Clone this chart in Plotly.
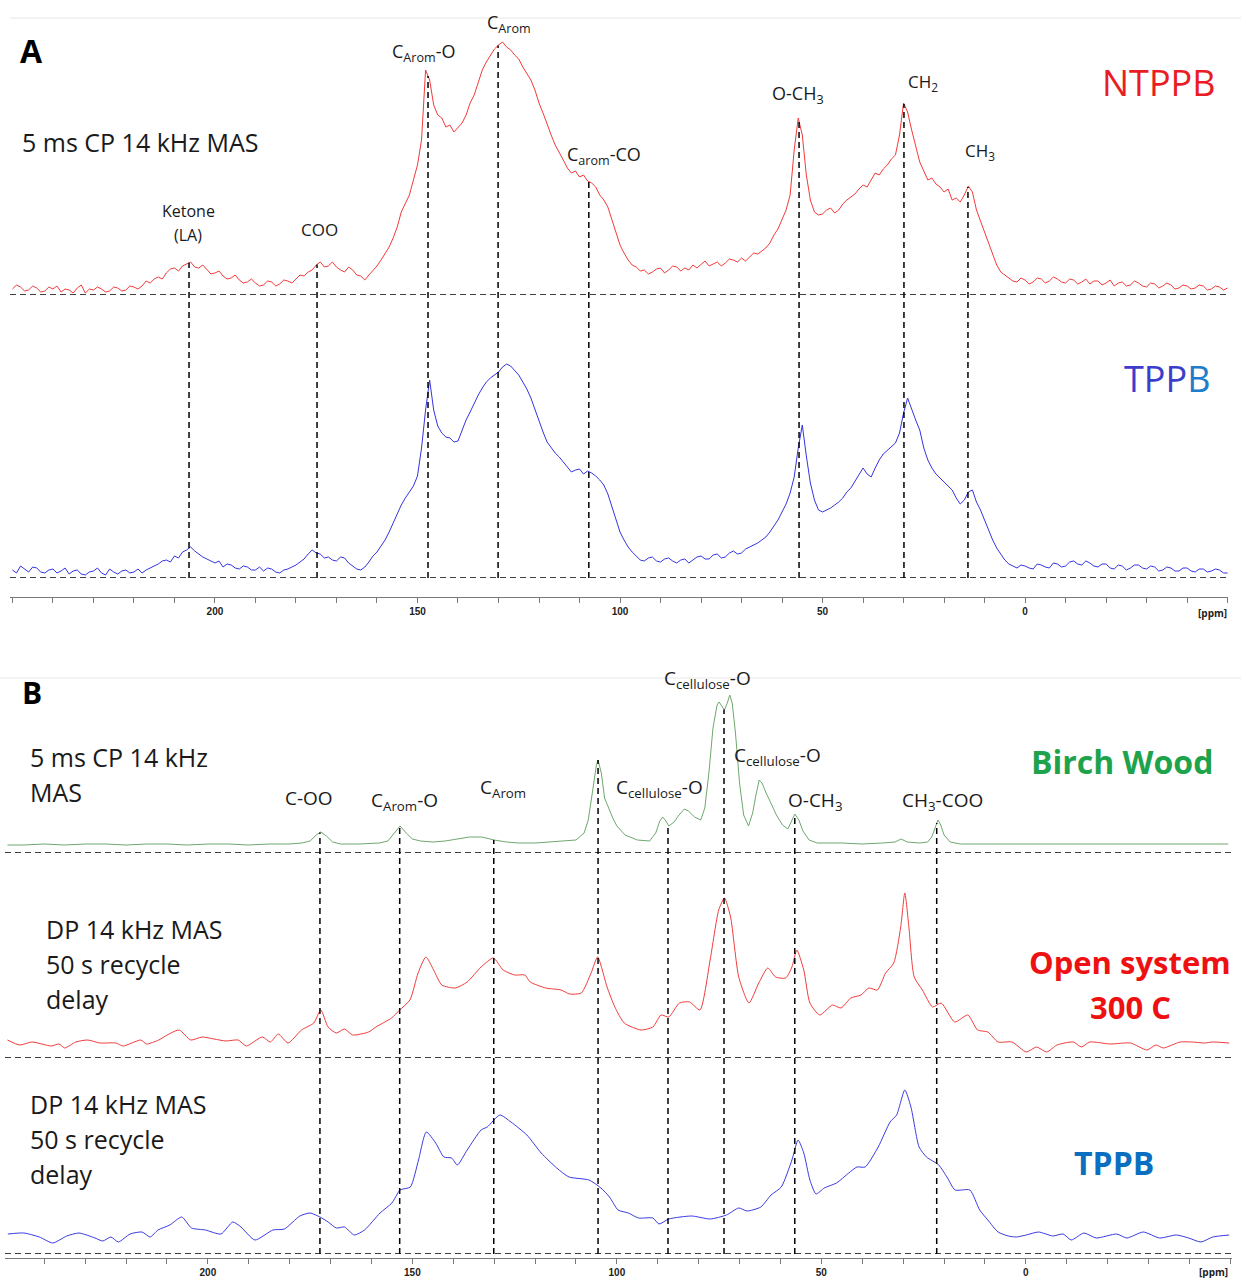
import numpy as np
import plotly.graph_objects as go

W, H = 1241, 1278


def px(x):
    return x / W


def py(y):
    return 1 - y / H


# ---------------- Panel A data (1 ppm grid, intensity in a.u.) ----------------
ppm_a = list(range(250, -51, -1))
ntppb = [6, 10, 8, 4, 5, 9, 7, 3, 4, 8,
         6, 9, 3, 6, 5, 2, 7, 10, 2, 6,
         5, 8, 6, 3, 4, 8, 7, 4, 5, 9,
         8, 6, 9, 14, 12, 16, 18, 16, 22, 26,
         27, 24, 29, 31, 33, 28, 27, 30, 25, 21,
         22, 24, 19, 16, 17, 20, 15, 12, 13, 16,
         12, 9, 10, 14, 13, 9, 11, 15, 14, 12,
         16, 20, 19, 23, 25, 30, 33, 28, 29, 33,
         28, 25, 23, 28, 25, 20, 19, 15, 20, 24,
         29, 35, 42, 48, 57, 68, 83, 92, 100, 115,
         130, 155, 225, 215, 190, 180, 177, 168, 170, 163,
         167, 172, 180, 192, 200, 212, 225, 233, 240, 246,
         250, 253, 248, 245, 240, 236, 228, 222, 215, 205,
         192, 182, 170, 160, 150, 143, 135, 127, 122, 124,
         118, 120, 114, 112, 108, 100, 95, 88, 75, 62,
         50, 42, 35, 30, 28, 24, 25, 21, 23, 26,
         27, 22, 25, 29, 28, 24, 27, 25, 30, 27,
         31, 34, 29, 31, 33, 29, 32, 36, 35, 33,
         37, 34, 38, 42, 41, 44, 47, 52, 60, 66,
         75, 85, 100, 145, 177, 160, 120, 95, 83, 80,
         81, 85, 87, 82, 85, 91, 95, 98, 101, 106,
         110, 108, 115, 122, 120, 126, 130, 136, 140, 160,
         192, 183, 165, 150, 133, 124, 115, 117, 111, 108,
         103, 106, 95, 97, 93, 100, 109, 103, 85, 74,
         63, 52, 40, 30, 23, 20, 17, 14, 13, 17,
         15, 11, 13, 17, 16, 12, 14, 18, 16, 13,
         12, 16, 15, 11, 13, 16, 11, 14, 14, 10,
         12, 15, 9, 12, 13, 9, 10, 14, 12, 9,
         8, 12, 11, 7, 9, 12, 10, 6, 7, 10,
         9, 6, 7, 10, 9, 5, 6, 9, 8, 5,
         7]
tppb_a = [8, 5, 12, 9, 6, 11, 10, 6, 5, 8,
          9, 5, 7, 10, 4, 7, 8, 4, 3, 6,
          7, 10, 5, 3, 9, 6, 4, 7, 8, 5,
          6, 9, 5, 8, 10, 12, 14, 17, 18, 16,
          22, 20, 26, 28, 31, 27, 24, 21, 19, 17,
          15, 17, 11, 14, 13, 10, 9, 12, 11, 8,
          8, 11, 7, 10, 9, 6, 5, 8, 9, 11,
          13, 16, 19, 24, 28, 25, 24, 20, 21, 18,
          17, 21, 20, 15, 12, 9, 8, 11, 16, 22,
          26, 32, 38, 46, 55, 64, 73, 80, 86, 92,
          102, 130, 168, 198, 168, 152, 145, 141, 140, 136,
          137, 148, 158, 166, 175, 183, 190, 196, 200, 203,
          206, 211, 214, 212, 208, 203, 196, 189, 180, 168,
          156, 146, 136, 130, 125, 121, 116, 110, 106, 108,
          109, 104, 107, 105, 102, 98, 93, 84, 72, 58,
          46, 38, 31, 26, 22, 18, 17, 20, 21, 17,
          16, 19, 20, 17, 15, 18, 19, 15, 18, 21,
          22, 19, 19, 23, 24, 20, 21, 25, 27, 24,
          25, 29, 31, 33, 35, 38, 41, 46, 52, 58,
          66, 74, 85, 101, 130, 153, 122, 95, 78, 68,
          66, 68, 70, 73, 76, 80, 86, 90, 97, 104,
          110, 104, 101, 110, 118, 124, 128, 131, 135, 145,
          165, 180, 168, 158, 148, 130, 118, 110, 104, 100,
          96, 91, 88, 80, 74, 78, 86, 88, 76, 68,
          58, 48, 38, 30, 24, 18, 14, 12, 10, 13,
          12, 10, 9, 14, 13, 11, 10, 15, 14, 11,
          12, 16, 17, 14, 13, 17, 15, 12, 11, 14,
          14, 10, 9, 13, 12, 8, 10, 13, 13, 10,
          9, 12, 11, 7, 8, 11, 10, 7, 7, 10,
          10, 7, 6, 9, 9, 6, 7, 9, 8, 5,
          5]

# ---------------- Panel B data ----------------
ppm_birch = [249, 245, 240, 235, 230, 225, 220, 215, 210, 205,
             200, 195, 190, 185, 180, 177, 175, 173.5, 172.4, 171,
             169.5, 167.5, 163, 158, 156, 154.5, 153, 151.5, 150, 148,
             145, 142, 139, 136, 133, 130, 127, 124, 120, 116,
             112, 110, 108, 107, 106, 105, 104.6, 103.8, 103, 102,
             101, 100, 98, 95, 92, 90.5, 89.5, 88.8, 88, 87.3,
             86, 85, 83.5, 82.5, 81, 79.5, 78.5, 77.5, 76.5, 75.5,
             75, 74.2, 73.7, 73, 72.4, 71.8, 71, 70, 69, 67.8,
             66.8, 66, 65.2, 64.5, 63.5, 62, 61, 59.5, 58.2, 57.5,
             56.5, 55.5, 54.5, 53, 51, 45, 40, 35, 32, 30.5,
             29, 26, 24, 23, 22, 21.5, 20.8, 20, 18.5, 16,
             10, 0, -10, -20, -30, -40, -49.5]
birch = [8, 8, 9, 8, 9, 9, 8, 9, 9, 8,
         9, 9, 8, 9, 9, 10, 12, 18, 21, 17,
         11, 9, 9, 10, 12, 20, 27, 20, 14, 12,
         11, 12, 14, 16, 16, 13, 11, 10, 10, 11,
         12, 13, 20, 33, 60, 88, 93, 80, 55, 45,
         35, 27, 18, 13, 12, 20, 32, 36, 32, 27,
         31, 37, 44, 42, 36, 33, 45, 80, 125, 148,
         151, 146, 143, 150, 158, 150, 120, 70, 38, 27,
         40, 58, 73, 70, 60, 47, 38, 28, 24, 30,
         39, 33, 22, 13, 10, 10, 9, 10, 11, 14,
         11, 10, 11, 16, 28, 33, 28, 18, 11, 9,
         9, 9, 9, 9, 9, 9, 9]

ppm_open = [249, 246, 243, 238.3, 236.4, 235, 232.3, 229.4, 226.4, 222.5,
            220.7, 216.4, 215, 212, 209.5, 207, 204.2, 201.4, 198.5, 195.6,
            192.6, 190.6, 186.7, 184.7, 182.8, 180.4, 177.1, 174.1, 172.4, 170.6,
            168.6, 166.6, 164.6, 160.7, 158.9, 155.1, 153.1, 150.6, 148.6, 146.7,
            144.8, 142.8, 139.5, 136.6, 133.2, 130.2, 127.8, 125, 122.5, 121.2,
            117.4, 113.6, 111.6, 108.7, 106.3, 104.7, 102.4, 100.5, 98.2, 94.1,
            91.2, 89.2, 87.3, 84.7, 82.2, 79.7, 77.2, 75.1, 73.7, 72.2,
            70.2, 67.7, 65.3, 63.1, 61.2, 58.7, 57.2, 56, 54.3, 52.8,
            50.4, 47.3, 45.2, 42.8, 40.3, 38.4, 36.3, 34.3, 32.3, 30.6,
            29.6, 28.6, 27.3, 25.3, 22.8, 20.7, 17.4, 14.2, 11.8, 9.3,
            6.8, 3.4, -0.1, -2.6, -5.1, -7.6, -11.6, -13.6, -15.6, -20.6,
            -25.6, -29.6, -31.8, -33.6, -37.7, -40.6, -43.7, -45.7, -49.7]
open_sys = [18, 13, 16, 12, 14, 10, 16, 18, 15, 15,
            12, 18, 14, 18, 24, 28, 18, 21, 19, 17,
            18, 12, 21, 16, 24, 15, 28, 35, 48, 31,
            25, 29, 23, 26, 31, 40, 48, 58, 85, 101,
            88, 73, 70, 76, 91, 100, 88, 83, 83, 76,
            70, 68, 64, 65, 85, 101, 71, 51, 35, 28,
            31, 43, 41, 55, 56, 48, 98, 148, 160, 141,
            81, 55, 75, 90, 81, 80, 91, 108, 88, 55,
            43, 53, 50, 60, 63, 70, 68, 85, 95, 131,
            165, 131, 81, 68, 51, 55, 36, 43, 28, 26,
            16, 16, 6, 11, 6, 13, 16, 11, 16, 14,
            15, 8, 13, 10, 16, 16, 15, 16, 15]

ppm_tppb_b = [248.9, 245, 241.2, 237.9, 234.5, 231.5, 227.6, 225.7, 223.7, 221.9,
              219, 216.1, 214.1, 212.2, 209.3, 206.4, 204, 200.6, 196.8, 193.9,
              191.9, 188.5, 184.1, 181.3, 177.5, 175, 172.6, 170.6, 168.6, 166.6,
              164.2, 161.7, 157.9, 155, 153, 150.5, 148.5, 146.6, 144.3, 142.3,
              140.4, 139, 136.6, 133.2, 131.7, 128.6, 125.9, 122, 118.5, 114.7,
              111.7, 106.8, 103.9, 101.8, 99.7, 97.2, 94.7, 91.2, 89.7, 87.3,
              81.7, 77.2, 73.2, 70.2, 68.2, 64.8, 62.3, 59.8, 57.2, 55.7,
              54.3, 52.8, 51.3, 49.3, 46.3, 43.3, 41.3, 39.3, 36.1, 33.2,
              31.6, 29.6, 28.1, 26.1, 24.3, 21.3, 19.3, 17.3, 13.7, 11.3,
              9.3, 6.8, 4.3, 2.3, -0.1, -3.1, -6.6, -9.1, -11.1, -14.2,
              -17.2, -22.2, -24.7, -28.7, -32.7, -36.8, -39.8, -42.8, -45.7, -49.7]
tppb_b = [20, 21, 17, 11, 18, 21, 16, 13, 17, 12,
          20, 22, 17, 24, 29, 37, 26, 24, 20, 32,
          27, 14, 24, 25, 38, 41, 37, 32, 26, 27,
          19, 24, 41, 51, 64, 67, 94, 122, 111, 97,
          96, 89, 104, 124, 127, 139, 132, 119, 101, 86,
          77, 74, 66, 57, 44, 41, 36, 36, 30, 35,
          38, 35, 39, 46, 43, 47, 59, 67, 94, 114,
          101, 74, 60, 66, 71, 81, 87, 87, 107, 132,
          139, 164, 147, 107, 97, 89, 77, 64, 64, 44,
          34, 22, 18, 17, 19, 22, 18, 20, 14, 21,
          16, 20, 16, 22, 16, 19, 16, 12, 17, 19]

# peak assignments (ppm) marked by dashed guide lines
peaks_a = [206.4, 174.8, 147.4, 130.1, 107.7, 55.8, 29.9, 14.1]
peaks_b = [172.6, 153.1, 130.1, 104.6, 87.5, 73.8, 56.5, 21.8]
tick_vals = [200, 150, 100, 50, 0]

for a, b in [(ppm_a, ntppb), (ppm_a, tppb_a), (ppm_birch, birch),
             (ppm_open, open_sys), (ppm_tppb_b, tppb_b)]:
    assert len(a) == len(b), (len(a), len(b))

# ---------------- axis layout (pixel boxes) ----------------
ybox = {
    "y": (295, 30),      # NTPPB
    "y2": (578, 310),    # TPPB (A)
    "y3": (853, 680),    # Birch wood
    "y4": (1058, 870),   # Open system
    "y5": (1254, 1070),  # TPPB (B)
}


def yaxis_cfg(name, anchor):
    base, top = ybox[name]
    return dict(domain=[py(base), py(top)], range=[0, base - top], visible=False,
                anchor=anchor, fixedrange=True)


def val_to_paper(name, v):
    base, top = ybox[name]
    d0, d1 = py(base), py(top)
    return d0 + v / (base - top) * (d1 - d0)


fig = go.Figure()


def add_spec(x, y, xa, ya, color, shape="linear"):
    line = dict(color=color, width=1, shape=shape)
    if shape == "spline":
        line["smoothing"] = 0.6
    fig.add_trace(go.Scatter(x=x, y=y, xaxis=xa, yaxis=ya, mode="lines", line=line,
                             hoverinfo="skip", showlegend=False))


add_spec(ppm_a, ntppb, "x", "y", "#f23a3a")
add_spec(ppm_a, tppb_a, "x", "y2", "#3434e0")
add_spec(ppm_birch, birch, "x2", "y3", "#6fa86f")
add_spec(ppm_open, open_sys, "x2", "y4", "#f03c3c", "spline")
add_spec(ppm_tppb_b, tppb_b, "x2", "y5", "#3a3ae2", "spline")

dash = dict(color="black", width=1.5, dash="6px,4px")
shapes = []
for xa, ya in [("x", "y"), ("x", "y2"), ("x2", "y3"), ("x2", "y4"), ("x2", "y5")]:
    shapes.append(dict(type="line", xref=f"{xa} domain", yref=ya, x0=0, x1=1,
                       y0=0, y1=0, line=dash, layer="above"))

top_a = np.interp(peaks_a, ppm_a[::-1], ntppb[::-1])
for p, t in zip(peaks_a, top_a):
    shapes.append(dict(type="line", xref="x", yref="paper", x0=p, x1=p,
                       y0=val_to_paper("y2", 0), y1=val_to_paper("y", t), line=dash))
top_b = np.interp(peaks_b, ppm_birch[::-1], birch[::-1])
for p, t in zip(peaks_b, top_b):
    shapes.append(dict(type="line", xref="x2", yref="paper", x0=p, x1=p,
                       y0=val_to_paper("y5", 0), y1=val_to_paper("y3", t), line=dash))

shapes.append(dict(type="line", xref="paper", yref="paper", x0=px(10), x1=1,
                   y0=py(18), y1=py(18), line=dict(color="#e6e6e6", width=1)))
shapes.append(dict(type="line", xref="paper", yref="paper", x0=0, x1=1,
                   y0=py(678), y1=py(678), line=dict(color="#e6e6e6", width=1)))

FONT = "Open Sans"
annotations = []


def ann(text, x, y, size=16, color="#1a1a1a", xanchor="center", bold=False):
    if bold:
        text = f"<b>{text}</b>"
    annotations.append(dict(text=text, x=px(x), y=py(y), xref="paper", yref="paper",
                            xanchor=xanchor, yanchor="middle", showarrow=False,
                            font=dict(family=FONT, size=size, color=color)))


# Panel A texts
ann("A", 18, 50, size=32, color="black", xanchor="left", bold=True)
ann("5 ms CP 14 kHz MAS", 20, 142, size=25, xanchor="left")
ann("Ketone", 188, 211)
ann("(LA)", 188, 235)
ann("COO", 320, 229, size=17)
ann("C<sub>Arom</sub>-O", 424, 52, size=18)
ann("C<sub>Arom</sub>", 509, 23, size=18)
ann("C<sub>arom</sub>-CO", 604, 156, size=18)
ann("O-CH<sub>3</sub>", 798, 95, size=18)
ann("CH<sub>2</sub>", 923, 83, size=17)
ann("CH<sub>3</sub>", 980, 151, size=17)
ann("NTPPB", 1159, 82, size=36, color="#ea1c24")
ann("TPP<span style='color:#1e7ecb'>B</span>", 1167, 378, size=36, color="#3d3dcc")
ann("[ppm]", 1212, 613, size=10, color="#222", bold=True)

# Panel B texts
ann("B", 20, 692, size=30, color="black", xanchor="left", bold=True)
ann("5 ms CP 14 kHz", 28, 757, size=25, xanchor="left")
ann("MAS", 28, 792, size=25, xanchor="left")
ann("C-OO", 309, 798, size=19)
ann("C<sub>Arom</sub>-O", 404, 801, size=19)
ann("C<sub>Arom</sub>", 503, 788, size=19)
ann("C<sub>cellulose</sub>-O", 659, 788, size=19)
ann("C<sub>cellulose</sub>-O", 708, 679, size=19)
ann("C<sub>cellulose</sub>-O", 778, 756, size=19)
ann("O-CH<sub>3</sub>", 815, 801, size=19)
ann("CH<sub>3</sub>-COO", 942, 801, size=19)
ann("Birch Wood", 1122, 762, size=32, color="#1ea34c", bold=True)
ann("DP 14 kHz MAS", 44, 929, size=25, xanchor="left")
ann("50 s recycle", 44, 964, size=25, xanchor="left")
ann("delay", 44, 999, size=25, xanchor="left")
ann("Open system", 1130, 962, size=31, color="#ee1111", bold=True)
ann("300 C", 1130, 1007, size=31, color="#ee1111", bold=True)
ann("DP 14 kHz MAS", 28, 1104, size=25, xanchor="left")
ann("50 s recycle", 28, 1139, size=25, xanchor="left")
ann("delay", 28, 1174, size=25, xanchor="left")
ann("TPPB", 1114, 1162, size=32, color="#0a6fc0", bold=True)
ann("[ppm]", 1213, 1272, size=10, color="#222", bold=True)


def xaxis_cfg(dom, rng, pos):
    return dict(domain=[px(dom[0]), px(dom[1])], range=rng, anchor="free",
                position=py(pos), showline=True, linecolor="#7a7a7a", linewidth=1,
                ticks="outside", ticklen=5, tickcolor="#7a7a7a", tickmode="array",
                tickvals=tick_vals, ticktext=[str(v) for v in tick_vals],
                tickfont=dict(family="Liberation Sans", size=10, color="#222", weight="bold"),
                minor=dict(tickmode="linear", tick0=0, dtick=10, ticks="outside",
                           ticklen=5, tickcolor="#7a7a7a"),
                showgrid=False, zeroline=False, fixedrange=True)


fig.update_layout(
    width=W, height=H,
    margin=dict(l=0, r=0, t=0, b=0),
    paper_bgcolor="white", plot_bgcolor="rgba(0,0,0,0)",
    showlegend=False,
    xaxis=xaxis_cfg((10, 1228), [250.6, -50.1], 597),
    xaxis2=xaxis_cfg((5, 1232), [249.6, -50.4], 1258),
    yaxis=yaxis_cfg("y", "x"),
    yaxis2=yaxis_cfg("y2", "x"),
    yaxis3=yaxis_cfg("y3", "x2"),
    yaxis4=yaxis_cfg("y4", "x2"),
    yaxis5=yaxis_cfg("y5", "x2"),
    shapes=shapes,
    annotations=annotations,
)

fig.write_html("out.html")
